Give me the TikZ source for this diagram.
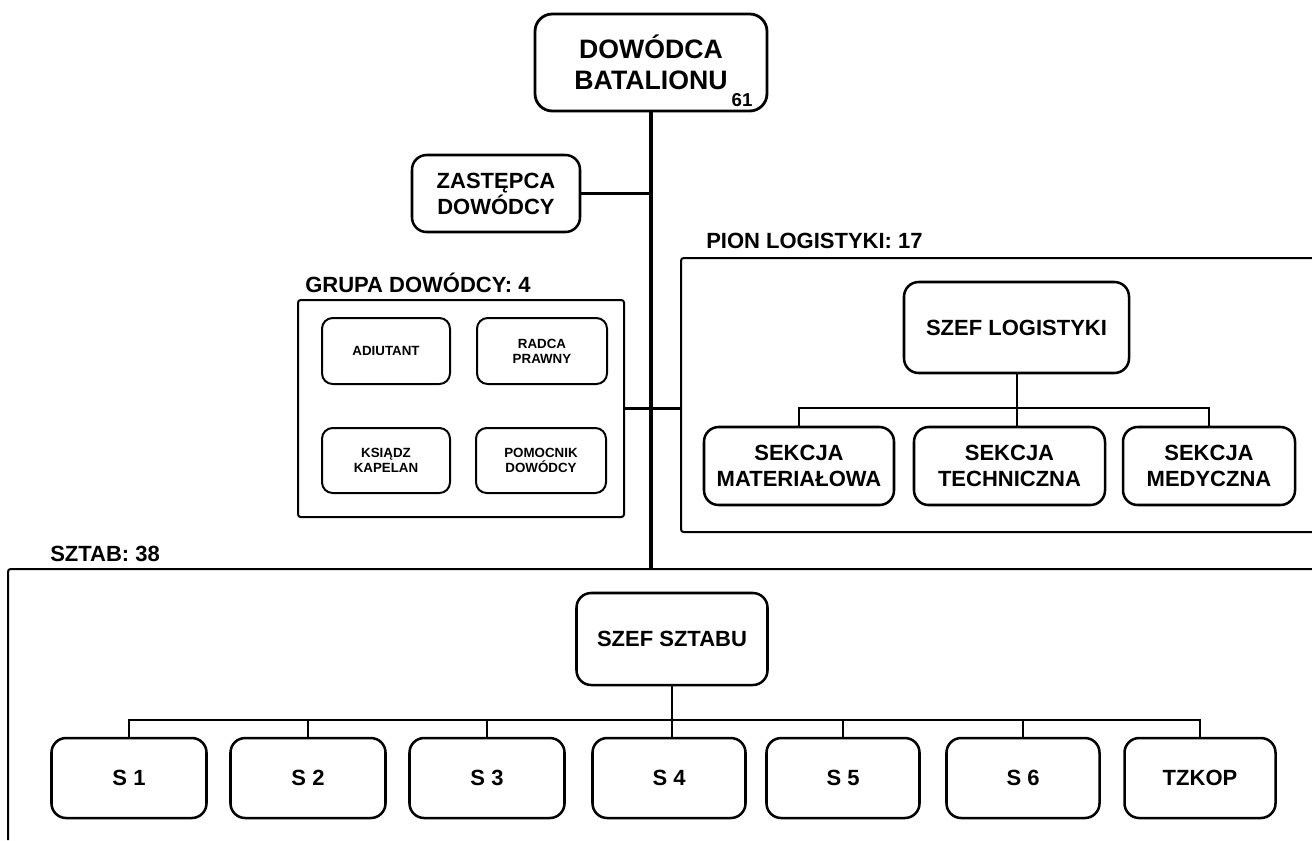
\documentclass[tikz,border=0pt]{standalone}
\usepackage{fontspec}
\setmainfont{Liberation Sans}
\begin{document}
\begin{tikzpicture}[x=0.75pt,y=-0.75pt]
\tikzset{
 sz/.style 2 args={minimum width=#1*0.75pt, minimum height=#2*0.75pt},
 bigbox/.style={draw, line width=1.9pt, rounded corners=11pt, inner sep=0pt, align=center, font=\bfseries\fontsize{16.5}{19.5}\selectfont},
 smallbox/.style={draw, line width=1.5pt, rounded corners=8pt, inner sep=0pt, align=center, font=\bfseries\fontsize{10}{11.25}\selectfont},
 grouplabel/.style={anchor=base west, inner sep=0pt, font=\bfseries\fontsize{16.5}{19.5}\selectfont},
 mainline/.style={line width=2.4pt},
 subline/.style={line width=1.5pt},
 frame/.style={line width=1.5pt},
}
\useasboundingbox (0,0) rectangle (1312,840);

% top
\node[bigbox, sz={232}{97}, rounded corners=13pt, line width=2.1pt, font=\bfseries\fontsize{20}{23.25}\selectfont] (cmd) at (651,62.5) {DOWÓDCA\\BATALIONU};
\node[inner sep=0pt, font=\bfseries\fontsize{14}{16}\selectfont] (n61) at (742,100) {61};

\node[bigbox, sz={168}{77}] (zast) at (496,193.5) {ZASTĘPCA\\DOWÓDCY};

% grupa dowodcy
\node[grouplabel] (glab) at (305,292) {GRUPA DOWÓDCY: 4};
\node[draw, frame, sz={326}{217}, inner sep=0pt, rounded corners=2pt] (grupa) at (461,408.5) {};
\node[smallbox, sz={128}{66}] (adj) at (386,351) {ADIUTANT};
\node[smallbox, sz={130}{66}] (rad) at (542,351) {RADCA\\PRAWNY};
\node[smallbox, sz={128}{65}] (ksi) at (386,460.5) {KSIĄDZ\\KAPELAN};
\node[smallbox, sz={130}{65}] (pom) at (541,460.5) {POMOCNIK\\DOWÓDCY};

% pion logistyki
\node[grouplabel] (plab) at (706,248) {PION LOGISTYKI: 17};
\coordinate (pionTR) at (1312,258);
\coordinate (pionTL) at (681,258);
\coordinate (pionBL) at (681,532);
\coordinate (pionBR) at (1312,532);
\draw[frame, rounded corners=2pt] (pionTR) -- (pionTL) -- (pionBL) -- (pionBR);
\node[bigbox, sz={225}{91}] (szl) at (1016.5,327.5) {SZEF LOGISTYKI};
\node[bigbox, sz={190}{78}] (sec1) at (799,466) {SEKCJA\\MATERIAŁOWA};
\node[bigbox, sz={191}{78}] (sec2) at (1009.5,466) {SEKCJA\\TECHNICZNA};
\node[bigbox, sz={172}{78}] (sec3) at (1209,466) {SEKCJA\\MEDYCZNA};
\coordinate (lbus) at (1016.5,408);
\draw[subline] (szl.south) -- (szl.south |- sec2.north);
\draw[subline] (sec1.north) |- (lbus) -| (sec3.north);

% sztab
\node[grouplabel] (slab) at (50,561) {SZTAB: 38};
\coordinate (sztabTR) at (1312,569);
\coordinate (sztabTL) at (8,569);
\coordinate (sztabBL) at (8,840);
\draw[frame, rounded corners=2pt] (sztabTR) -- (sztabTL) -- (sztabBL);
\node[bigbox, sz={191}{92}] (szs) at (672,639) {SZEF SZTABU};
\node[bigbox, sz={155}{80}] (s1) at (129,778) {S 1};
\node[bigbox, sz={155}{80}] (s2) at (308,778) {S 2};
\node[bigbox, sz={155}{80}] (s3) at (487,778) {S 3};
\node[bigbox, sz={153}{80}] (s4) at (669,778) {S 4};
\node[bigbox, sz={153}{80}] (s5) at (843,778) {S 5};
\node[bigbox, sz={153}{80}] (s6) at (1023,778) {S 6};
\node[bigbox, sz={151}{80}] (tz) at (1200,778) {TZKOP};
\coordinate (sbus) at (672,720);
\draw[subline] (szs.south) -- (szs.south |- s4.north);
\draw[subline] (s1.north) |- (sbus) -| (tz.north);
\foreach \n in {s2,s3,s5,s6} \draw[subline] (\n.north) -- (\n.north |- sbus);

% main connectors
\coordinate (sztabtop) at (651,569);
\draw[mainline] (cmd.south) -- (cmd.south |- sztabtop);
\draw[mainline] (zast.east) -- (zast.east -| cmd.south);
\draw[mainline] (grupa.east) -- (grupa.east -| pionTL);
\end{tikzpicture}
\end{document}
